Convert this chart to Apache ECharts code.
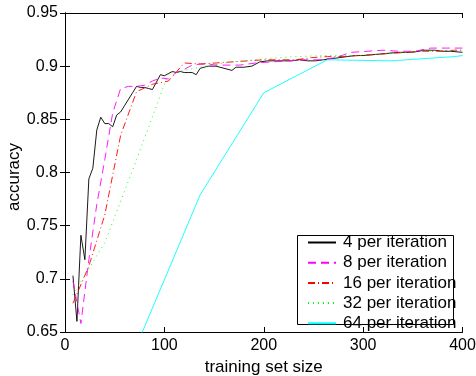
<!DOCTYPE html>
<html>
<head>
<meta charset="utf-8">
<script src="https://cdn.jsdelivr.net/npm/echarts@6/dist/echarts.min.js"></script>
<style>html,body{margin:0;padding:0;background:#fff}#c{width:476px;height:376px}</style>
</head>
<body>
<div id="c"></div>
<script>
var seriesNames = ['4 per iteration', '8 per iteration', '16 per iteration', '32 per iteration', '64 per iteration'];
var xTitle = 'training set size';
var yTitle = 'accuracy';
var xTicks = [0, 100, 200, 300, 400];
var yTicks = [0.65, 0.7, 0.75, 0.8, 0.85, 0.9, 0.95];

var size4 = [8, 12, 16, 20, 24, 28, 32, 36, 40, 44, 48, 52, 56, 60, 64, 68, 72, 76, 80, 84, 88, 92, 96, 100, 104, 108, 112, 116, 120, 124, 128, 132, 136, 140, 144, 152, 160, 168, 172, 180, 188, 196, 204, 212, 220, 228, 236, 244, 252, 260, 268, 276, 284, 292, 300, 312, 324, 336, 348, 356, 360, 372, 380, 388, 400];
var acc4 = [0.703, 0.660, 0.741, 0.718, 0.794, 0.804, 0.840, 0.852, 0.846, 0.846, 0.843, 0.854, 0.857, 0.863, 0.869, 0.875, 0.881, 0.880, 0.880, 0.879, 0.878, 0.885, 0.892, 0.891, 0.893, 0.895, 0.894, 0.895, 0.894, 0.894, 0.894, 0.892, 0.898, 0.899, 0.900, 0.900, 0.898, 0.896, 0.899, 0.899, 0.900, 0.904, 0.905, 0.905, 0.905, 0.905, 0.906, 0.905, 0.905, 0.906, 0.907, 0.908, 0.909, 0.910, 0.910, 0.911, 0.912, 0.913, 0.913, 0.914, 0.915, 0.915, 0.914, 0.914, 0.913];

var size8 = [8, 16, 24, 32, 40, 48, 56, 64, 72, 80, 88, 96, 104, 112, 120, 128, 136, 144, 152, 160, 176, 192, 208, 224, 240, 256, 272, 288, 304, 320, 336, 352, 368, 384, 400];
var acc8 = [0.698, 0.658, 0.718, 0.770, 0.812, 0.856, 0.879, 0.881, 0.881, 0.882, 0.886, 0.889, 0.888, 0.894, 0.897, 0.901, 0.902, 0.902, 0.901, 0.901, 0.901, 0.903, 0.904, 0.905, 0.906, 0.906, 0.908, 0.913, 0.914, 0.915, 0.914, 0.914, 0.917, 0.917, 0.917];

var size16 = [8, 24, 40, 56, 72, 88, 104, 120, 136, 152, 168, 184, 200, 216, 232, 248, 264, 280, 296, 312, 328, 344, 360, 376, 392, 400];
var acc16 = [0.677, 0.712, 0.760, 0.835, 0.876, 0.883, 0.886, 0.903, 0.902, 0.903, 0.904, 0.905, 0.906, 0.906, 0.906, 0.908, 0.909, 0.909, 0.910, 0.911, 0.912, 0.913, 0.914, 0.914, 0.915, 0.915];

var size32 = [8, 40, 72, 104, 136, 168, 200, 232, 264, 296, 328, 360, 392, 400];
var acc32 = [0.685, 0.734, 0.812, 0.893, 0.899, 0.904, 0.907, 0.909, 0.910, 0.910, 0.912, 0.914, 0.915, 0.915];

var size64 = [72, 136, 200, 264, 328, 392, 400];
var acc64 = [0.637, 0.779, 0.875, 0.906, 0.905, 0.909, 0.910];

function pairs(xs, ys) { return xs.map(function (x, i) { return [x, ys[i]]; }); }

var FONT = 'Liberation Sans, Arial, sans-serif';
var chart = echarts.init(document.getElementById('c'), null, { renderer: 'canvas' });

function mkSeries(name, xs, ys, color, type) {
  return {
    name: name, type: 'line', data: pairs(xs, ys), symbol: 'none', showSymbol: false, animation: false,
    lineStyle: { color: color, width: 0.9, type: type }, itemStyle: { color: color },
    clip: true
  };
}

var axisLine = { show: true, lineStyle: { color: '#000', width: 1 } };
var axisTick = { show: true, inside: true, length: 5, lineStyle: { color: '#000' } };

chart.setOption({
  animation: false,
  backgroundColor: '#fff',
  grid: { left: 65, right: 13.5, top: 13, bottom: 44, containLabel: false, outerBoundsMode: 'none' },
  xAxis: [{
    type: 'value', min: xTicks[0], max: xTicks[xTicks.length - 1], interval: 100, position: 'bottom',
    name: xTitle, nameLocation: 'middle', nameGap: 27,
    nameTextStyle: { fontFamily: FONT, fontSize: 17, color: '#000' },
    axisLine: axisLine, axisTick: axisTick, splitLine: { show: false },
    axisLabel: { fontFamily: FONT, fontSize: 16, color: '#000', margin: 6 }
  }, {
    type: 'value', min: xTicks[0], max: xTicks[xTicks.length - 1], interval: 100, position: 'top',
    axisLine: axisLine, axisTick: axisTick, splitLine: { show: false }, axisLabel: { show: false }
  }],
  yAxis: [{
    type: 'value', min: yTicks[0], max: yTicks[yTicks.length - 1], interval: 0.05, position: 'left',
    axisLine: axisLine, axisTick: axisTick, splitLine: { show: false },
    axisLabel: { fontFamily: FONT, fontSize: 16, color: '#000', margin: 7,
      formatter: function (v) { return String(Math.round(v * 100) / 100); } }
  }, {
    type: 'value', min: yTicks[0], max: yTicks[yTicks.length - 1], interval: 0.05, position: 'right',
    axisLine: axisLine, axisTick: axisTick, splitLine: { show: false }, axisLabel: { show: false }
  }],
  legend: {
    data: seriesNames, orient: 'vertical', left: 307, top: 234, padding: 0,
    itemWidth: 28, itemHeight: 14, itemGap: 3.2,
    itemStyle: { opacity: 0 },
    textStyle: { fontFamily: FONT, fontSize: 17, lineHeight: 14, color: '#000', padding: [0, 0, 0, 2] },
    z: 10
  },
  graphic: [{
    type: 'rect', z: 5, shape: { x: 297.5, y: 235.5, width: 156, height: 89 },
    style: { fill: '#fff', stroke: '#000', lineWidth: 1 }
  }, {
    type: 'text', x: 14, y: 177, rotation: Math.PI / 2,
    style: { text: yTitle, font: '17px ' + FONT, fill: '#000', textAlign: 'center', textVerticalAlign: 'middle', align: 'center', verticalAlign: 'middle' }
  }],
  series: [
    mkSeries(seriesNames[0], size4, acc4, '#000000', 'solid'),
    mkSeries(seriesNames[1], size8, acc8, '#ff00ff', [8, 5]),
    mkSeries(seriesNames[2], size16, acc16, '#ff0000', [7, 3, 1, 3]),
    mkSeries(seriesNames[3], size32, acc32, '#00ff00', [1, 4]),
    mkSeries(seriesNames[4], size64, acc64, '#00ffff', 'solid')
  ]
});
</script>
</body>
</html>
